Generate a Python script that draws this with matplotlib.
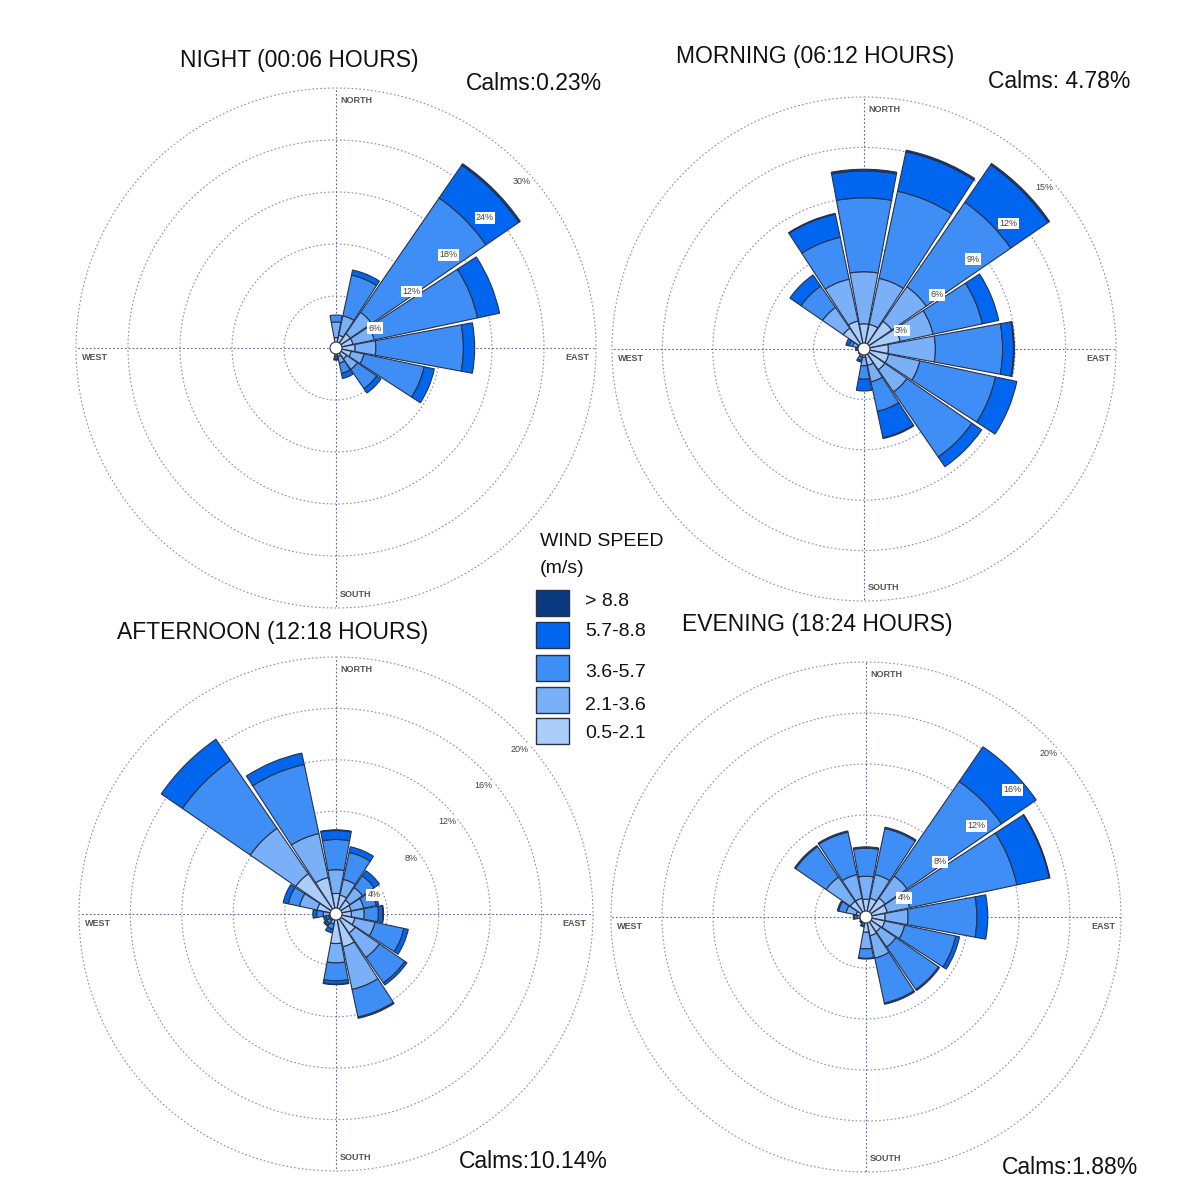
import numpy as np
import matplotlib
matplotlib.use("Agg")
import matplotlib.pyplot as plt
from matplotlib.patches import Circle, Rectangle

plt.rcParams['font.family'] = ['Liberation Sans', 'DejaVu Sans']

# 16 compass sectors, clockwise from north
directions = ['N', 'NNE', 'NE', 'ENE', 'E', 'ESE', 'SE', 'SSE',
              'S', 'SSW', 'SW', 'WSW', 'W', 'WNW', 'NW', 'NNW']

# speed classes (m/s), lightest first
speed_classes = ['0.5-2.1', '2.1-3.6', '3.6-5.7', '5.7-8.8', '> 8.8']
class_colors = ['#abcdfa', '#7ab0f7', '#3f8ef5', '#0066f0', '#0a3a80']

# frequency (%) per direction, one column per speed class
night = [
    [1.2, 1.8, 0.8, 0.0, 0.0],
    [1.5, 2.3, 4.8, 0.6, 0.0],
    [2.0, 3.0, 16.0, 4.6, 0.2],
    [2.0, 2.5, 12.2, 2.6, 0.0],
    [2.2, 2.4, 10.1, 1.3, 0.0],
    [1.8, 1.5, 7.1, 1.2, 0.0],
    [1.5, 1.5, 2.7, 0.6, 0.0],
    [1.0, 0.8, 1.2, 0.6, 0.0],
    [0.4, 0.3, 0.3, 0.3, 0.1],
    [0.2, 0.1, 0.1, 0.1, 0.0],
    [0.1, 0.1, 0.1, 0.0, 0.0],
    [0.1, 0.1, 0.0, 0.0, 0.0],
    [0.1, 0.1, 0.1, 0.0, 0.0],
    [0.1, 0.1, 0.1, 0.0, 0.0],
    [0.2, 0.2, 0.1, 0.0, 0.0],
    [0.3, 0.2, 0.1, 0.0, 0.0],
]

morning = [
    [1.5, 3.1, 4.4, 1.6, 0.1],
    [1.5, 2.8, 5.3, 2.4, 0.1],
    [2.0, 2.5, 6.1, 2.7, 0.1],
    [2.2, 2.0, 3.0, 1.0, 0.0],
    [1.45, 2.8, 4.0, 0.65, 0.05],
    [1.5, 1.9, 4.6, 1.3, 0.0],
    [1.5, 1.6, 4.7, 0.7, 0.0],
    [1.0, 1.0, 1.8, 1.6, 0.05],
    [0.5, 0.5, 0.8, 0.7, 0.0],
    [0.3, 0.2, 0.2, 0.1, 0.0],
    [0.2, 0.1, 0.1, 0.0, 0.0],
    [0.1, 0.1, 0.1, 0.0, 0.0],
    [0.2, 0.1, 0.1, 0.1, 0.0],
    [0.4, 0.3, 0.2, 0.2, 0.0],
    [1.5, 1.5, 1.55, 0.8, 0.0],
    [1.7, 2.55, 2.55, 1.4, 0.05],
]

afternoon = [
    [1.6, 1.85, 2.35, 0.7, 0.05],
    [1.5, 1.25, 2.15, 0.45, 0.0],
    [1.3, 1.2, 1.1, 0.5, 0.0],
    [1.2, 1.0, 1.0, 0.2, 0.0],
    [1.2, 1.0, 1.1, 0.35, 0.05],
    [1.5, 1.6, 2.3, 0.35, 0.0],
    [1.8, 2.3, 2.4, 0.2, 0.0],
    [2.6, 3.4, 2.2, 0.1, 0.0],
    [2.3, 1.5, 1.4, 0.25, 0.05],
    [0.4, 0.4, 0.4, 0.3, 0.0],
    [0.3, 0.3, 0.3, 0.2, 0.05],
    [0.3, 0.3, 0.2, 0.2, 0.0],
    [0.5, 0.5, 0.5, 0.3, 0.0],
    [1.5, 1.4, 0.9, 0.4, 0.0],
    [3.8, 4.3, 6.4, 2.0, 0.0],
    [2.9, 3.5, 5.5, 0.9, 0.0],
]

evening = [
    [1.4, 1.8, 2.2, 0.1, 0.0],
    [1.5, 1.9, 3.7, 0.1, 0.0],
    [1.8, 2.1, 9.0, 3.3, 0.0],
    [1.7, 1.8, 8.6, 2.6, 0.05],
    [1.5, 1.8, 5.4, 0.85, 0.0],
    [1.5, 1.6, 4.1, 0.3, 0.0],
    [1.4, 1.45, 4.05, 0.1, 0.0],
    [1.5, 1.8, 3.6, 0.1, 0.0],
    [1.2, 1.3, 0.75, 0.05, 0.0],
    [0.3, 0.2, 0.2, 0.1, 0.0],
    [0.2, 0.2, 0.1, 0.1, 0.0],
    [0.2, 0.1, 0.1, 0.1, 0.0],
    [0.4, 0.3, 0.2, 0.1, 0.0],
    [0.8, 0.8, 0.6, 0.1, 0.0],
    [1.5, 2.3, 2.9, 0.1, 0.0],
    [1.5, 1.9, 3.4, 0.1, 0.0],
]

titles = ['NIGHT (00:06 HOURS)', 'MORNING (06:12 HOURS)',
          'AFTERNOON (12:18 HOURS)', 'EVENING (18:24 HOURS)']
calms = ['Calms:0.23%', 'Calms: 4.78%', 'Calms:10.14%', 'Calms:1.88%']
ring_steps = [6, 3, 4, 4]

W, H = 1194, 1200
fig = plt.figure(figsize=(W / 100, H / 100), dpi=100)
fig.patch.set_facecolor('white')

# centre x, centre y, radius in pixels for each rose
layout = [(336, 348, 260), (864, 349, 252), (336, 914, 257), (866, 917, 255)]
title_pos = [(299, 60), (815, 56), (273, 633), (817, 625)]
calm_pos = [(534, 84), (1059, 82), (533, 1162), (1070, 1168)]

theta = np.radians(np.arange(16) * 22.5)
width = np.radians(21.0)
full = np.linspace(0, 2 * np.pi, 400)


def draw_rose(data, cx, cy, R, step):
    ax = fig.add_axes([(cx - R) / W, 1 - (cy + R) / H, 2 * R / W, 2 * R / H],
                      projection='polar')
    ax.set_theta_zero_location('N')
    ax.set_theta_direction(-1)
    rmax = step * 5
    ax.set_ylim(0, rmax)
    ax.set_xticks([])
    ax.set_yticks([])
    ax.grid(False)
    ax.spines['polar'].set_visible(False)
    ax.patch.set_alpha(0)

    # dotted rings and compass cross
    for k in range(1, 6):
        ax.plot(full, np.full_like(full, step * k), color='#8a90aa',
                lw=0.8, ls=(0, (1.5, 2.0)), zorder=1, clip_on=False)
    for a in [0, 90, 180, 270]:
        ax.plot([np.radians(a)] * 2, [0, rmax], color='#5a6296',
                lw=0.8, ls=(0, (1.5, 2.0)), zorder=1, clip_on=False)

    # stacked speed classes
    arr = np.array(data)
    bottom = np.zeros(16)
    for k in range(5):
        vals = arr[:, k]
        m = vals > 0
        ax.bar(theta[m], vals[m], width=width, bottom=bottom[m],
               color=class_colors[k], edgecolor='#27324a', lw=0.8, zorder=3)
        bottom += vals

    # ring labels
    for k in range(1, 6):
        ax.annotate(f'{step * k}%', xy=(np.radians(45), step * k),
                    xytext=(2, -17), textcoords='offset pixels',
                    ha='center', va='center', fontsize=6.5, color='#444444',
                    zorder=6, annotation_clip=False,
                    bbox=dict(boxstyle='square,pad=0.15', fc='white',
                              ec='none'))

    # calm circle in the middle
    ax.add_patch(Circle((0.5, 0.5), 6.0 / (2 * R), transform=ax.transAxes,
                        fc='white', ec='#333333', lw=0.8, zorder=7))

    lab = dict(fontsize=6.5, color='#555555', transform=ax.transAxes,
               fontweight='bold')
    ax.text(0.508, 0.984, 'NORTH', ha='left', va='top', **lab)
    ax.text(0.508, 0.018, 'SOUTH', ha='left', va='bottom', **lab)
    ax.text(0.012, 0.49, 'WEST', ha='left', va='top', **lab)
    ax.text(0.988, 0.49, 'EAST', ha='right', va='top', **lab)
    return ax


datasets = [night, morning, afternoon, evening]
for i in range(4):
    cx, cy, R = layout[i]
    draw_rose(datasets[i], cx, cy, R, ring_steps[i])
    tx, ty = title_pos[i]
    fig.text(tx / W, 1 - ty / H, titles[i], ha='center', va='center',
             fontsize=16.5, color='#111111')
    kx, ky = calm_pos[i]
    fig.text(kx / W, 1 - ky / H, calms[i], ha='center', va='center',
             fontsize=16.5, color='#111111')

# legend
fig.text(540 / W, 1 - 541 / H, 'WIND SPEED', ha='left', va='center',
         fontsize=14, color='#111111')
fig.text(540 / W, 1 - 568 / H, '(m/s)', ha='left', va='center',
         fontsize=14, color='#111111')
patch_y = [603, 635, 668, 700, 731]
label_y = [602, 631, 672, 705, 733]
for j, k in enumerate(range(4, -1, -1)):
    fig.patches.append(Rectangle((536 / W, 1 - (patch_y[j] + 13) / H),
                                 33 / W, 26 / H, transform=fig.transFigure,
                                 fc=class_colors[k], ec='#27324a', lw=1.0))
    fig.text(585 / W, 1 - label_y[j] / H, speed_classes[k], ha='left',
             va='center', fontsize=14, color='#111111')

fig.savefig('out.png', dpi=100, facecolor='white')
